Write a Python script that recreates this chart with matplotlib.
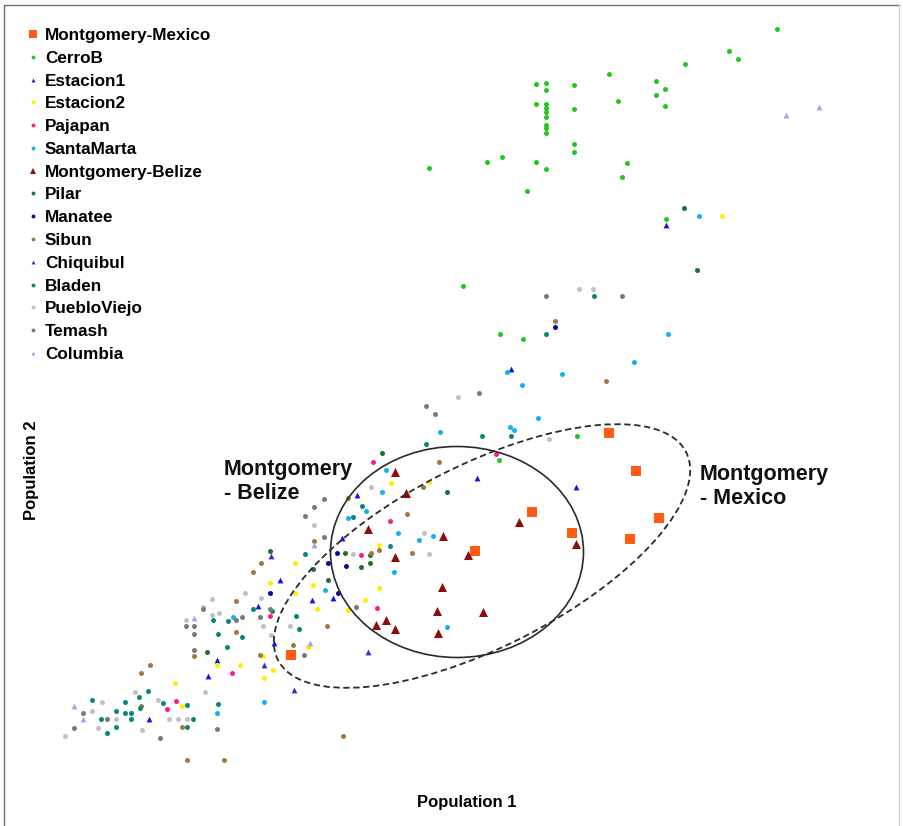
import matplotlib
matplotlib.use('Agg')
import matplotlib.pyplot as plt
from matplotlib.patches import Ellipse
from matplotlib.lines import Line2D

plt.rcParams['font.family'] = ['Liberation Sans', 'DejaVu Sans']

# population scores (Population 1, Population 2)
mont_mex_x = [609, 636, 532, 572, 659, 630, 475, 291]
mont_mex_y = [367, 329, 288, 267, 282, 261, 249, 145]

cerrob_x = [777, 729, 738, 685, 609, 656, 665, 656, 665, 536, 546, 546, 574, 536, 546, 546, 546, 546,
            546, 546, 546, 574, 618, 574, 574, 429, 487, 502, 536, 546, 627, 622, 527, 666, 463, 500,
            523, 577, 499]
cerrob_y = [771, 749, 741, 736, 726, 719, 711, 705, 694, 716, 717, 710, 715, 696, 696, 692, 688, 683,
            675, 672, 667, 691, 699, 656, 648, 632, 638, 643, 638, 631, 637, 623, 609, 581, 514, 466,
            461, 364, 340]

estacion1_x = [666, 511, 477, 576, 357, 342, 280, 333, 312, 258, 274, 217, 208, 149]
estacion1_y = [575, 431, 322, 313, 305, 262, 220, 202, 200, 194, 157, 140, 124, 81]

estacion2_x = [722, 391, 429, 379, 295, 270, 313, 295, 317, 348, 365, 379, 308, 217, 240, 263, 273,
               264, 175, 182]
estacion2_y = [584, 317, 318, 255, 237, 217, 215, 207, 191, 190, 200, 212, 153, 135, 135, 144, 130,
               122, 117, 94]

pajapan_x = [496, 373, 390, 361, 377, 270, 232, 176, 167]
pajapan_y = [346, 338, 279, 245, 192, 184, 127, 99, 91]

santamarta_x = [699, 668, 634, 562, 507, 522, 538, 510, 514, 440, 386, 382, 366, 348, 398, 419, 433,
                394, 447, 325, 233, 264, 217]
santamarta_y = [584, 466, 438, 426, 428, 415, 382, 373, 370, 368, 330, 308, 289, 282, 267, 260, 264,
                228, 173, 210, 183, 98, 87]

mont_bel_x = [395, 406, 368, 443, 395, 468, 519, 576, 442, 437, 483, 376, 386, 395, 438]
mont_bel_y = [328, 307, 271, 264, 243, 245, 278, 256, 213, 189, 188, 175, 180, 171, 167]

pilar_x = [684, 697, 382, 447, 370, 345, 361, 370, 328, 270, 313, 207]
pilar_y = [592, 530, 347, 308, 245, 247, 233, 237, 220, 249, 231, 148]

manatee_x = [555, 337, 328, 346, 338, 270]
manatee_y = [473, 247, 237, 234, 207, 207]

sibun_x = [555, 606, 439, 423, 348, 407, 371, 379, 412, 314, 261, 253, 327, 293, 260, 236, 236, 194,
           150, 141, 182, 187, 224, 343, 141]
sibun_y = [479, 419, 338, 313, 302, 286, 247, 250, 247, 259, 237, 228, 174, 155, 145, 199, 168, 144,
           135, 127, 73, 40, 40, 64, 94]

chiquibul_x = [271, 264, 294, 368]
chiquibul_y = [244, 135, 110, 148]

bladen_x = [594, 546, 482, 511, 426, 362, 353, 390, 305, 296, 299, 253, 272, 213, 228, 218, 242, 227,
            218, 148, 163, 187, 139, 125, 140, 92, 101, 116, 125, 131, 131, 193, 187, 116, 107]
bladen_y = [504, 466, 364, 364, 356, 294, 283, 254, 246, 184, 171, 191, 189, 180, 179, 166, 163, 153,
            96, 109, 97, 95, 103, 98, 92, 100, 81, 89, 87, 87, 81, 81, 73, 73, 67]

pueblo_x = [579, 593, 458, 549, 371, 353, 424, 429, 314, 245, 261, 263, 290, 271, 203, 212, 219, 212,
            186, 205, 135, 158, 102, 92, 116, 169, 178, 187, 98, 142, 65]
pueblo_y = [511, 511, 403, 361, 313, 246, 267, 246, 275, 207, 202, 174, 174, 165, 193, 201, 187, 185,
            180, 108, 108, 100, 98, 89, 81, 81, 81, 81, 72, 70, 64]

temash_x = [546, 622, 479, 426, 435, 324, 314, 305, 324, 356, 270, 242, 260, 304, 236, 203, 194, 186,
            194, 194, 217, 83, 107, 74, 160]
temash_y = [504, 504, 407, 394, 386, 301, 293, 284, 263, 193, 191, 183, 183, 145, 180, 191, 174, 174,
            166, 150, 71, 87, 81, 72, 62]

columbia_x = [786, 819, 314, 310, 194, 74, 83]
columbia_y = [685, 693, 255, 157, 182, 94, 81]

# (label, x, y, marker, colour, marker size in pt)
groups = [
    ('Montgomery-Mexico', mont_mex_x, mont_mex_y, 's', '#FF5B12', 7.0),
    ('CerroB', cerrob_x, cerrob_y, 'o', '#1EC81E', 3.6),
    ('Estacion1', estacion1_x, estacion1_y, '^', '#1414E6', 4.2),
    ('Estacion2', estacion2_x, estacion2_y, 'o', '#FFEE00', 3.6),
    ('Pajapan', pajapan_x, pajapan_y, 'o', '#FF1A8C', 3.6),
    ('SantaMarta', santamarta_x, santamarta_y, 'o', '#12B2F0', 3.6),
    ('Montgomery-Belize', mont_bel_x, mont_bel_y, '^', '#8E0C0C', 6.5),
    ('Pilar', pilar_x, pilar_y, 'o', '#1E7032', 3.6),
    ('Manatee', manatee_x, manatee_y, 'o', '#0A0A90', 3.6),
    ('Sibun', sibun_x, sibun_y, 'o', '#A07844', 3.6),
    ('Chiquibul', chiquibul_x, chiquibul_y, '^', '#4A28B8', 4.2),
    ('Bladen', bladen_x, bladen_y, 'o', '#0A857A', 3.6),
    ('PuebloViejo', pueblo_x, pueblo_y, 'o', '#C2C2C2', 3.6),
    ('Temash', temash_x, temash_y, 'o', '#7A7A7A', 3.6),
    ('Columbia', columbia_x, columbia_y, '^', '#A6A0F2', 4.2),
]

fig = plt.figure(figsize=(9.04, 8.26), dpi=100)
ax = fig.add_axes([0, 0, 1, 1])
ax.set_xlim(0, 904)
ax.set_ylim(-26, 800)
ax.axis('off')

handles = []
for label, xs, ys, mk, col, ms in groups:
    z = 4 if label.startswith('Montgomery') else 3
    ax.scatter(xs, ys, s=ms ** 2, marker=mk, c=col, linewidths=0, zorder=z)
    lms = {'Montgomery-Mexico': 6.0, 'Montgomery-Belize': 4.5}.get(label, 2.8)
    handles.append(Line2D([], [], ls='', marker=mk, ms=lms, color=col, mew=0, label=label))

# group ellipses
ax.add_patch(Ellipse((457, 248), 253, 211, angle=0, fill=False,
                     ec='#2a2a2a', lw=1.2, zorder=5))
ax.add_patch(Ellipse((482, 244), 458, 182, angle=27, fill=False,
                     ec='#2a2a2a', lw=1.3, ls=(0, (3.5, 2)), zorder=5))

ax.text(224, 341, 'Montgomery\n- Belize', fontsize=15.5, fontweight='bold',
        color='#111111', va='top', ha='left', linespacing=1.2)
ax.text(700, 336, 'Montgomery\n- Mexico', fontsize=15.5, fontweight='bold',
        color='#111111', va='top', ha='left', linespacing=1.2)

fig.legend(handles=handles, loc='upper left', bbox_to_anchor=(26 / 904, 1 - 28 / 826),
           bbox_transform=fig.transFigure, frameon=False, borderpad=0, borderaxespad=0,
           handlelength=0.8, handletextpad=0.3, labelspacing=0.455,
           prop={'size': 12.3, 'weight': 'bold'})

fig.text(467 / 904, 1 - 802 / 826, 'Population 1', fontsize=12, fontweight='bold',
         ha='center', va='center')
fig.text(32 / 904, 1 - 470 / 826, 'Population 2', fontsize=12, fontweight='bold',
         ha='center', va='center', rotation=90)

# thin frame round the picture
fig.add_artist(Line2D([4 / 904, 4 / 904, 899 / 904],
                      [0, 1 - 5 / 826, 1 - 5 / 826],
                      transform=fig.transFigure, color='#6e6e6e', lw=1.0))
fig.add_artist(Line2D([899 / 904, 899 / 904], [0, 1 - 5 / 826],
                      transform=fig.transFigure, color='#d4d4d4', lw=1.0))

fig.savefig('out.png', dpi=100)
